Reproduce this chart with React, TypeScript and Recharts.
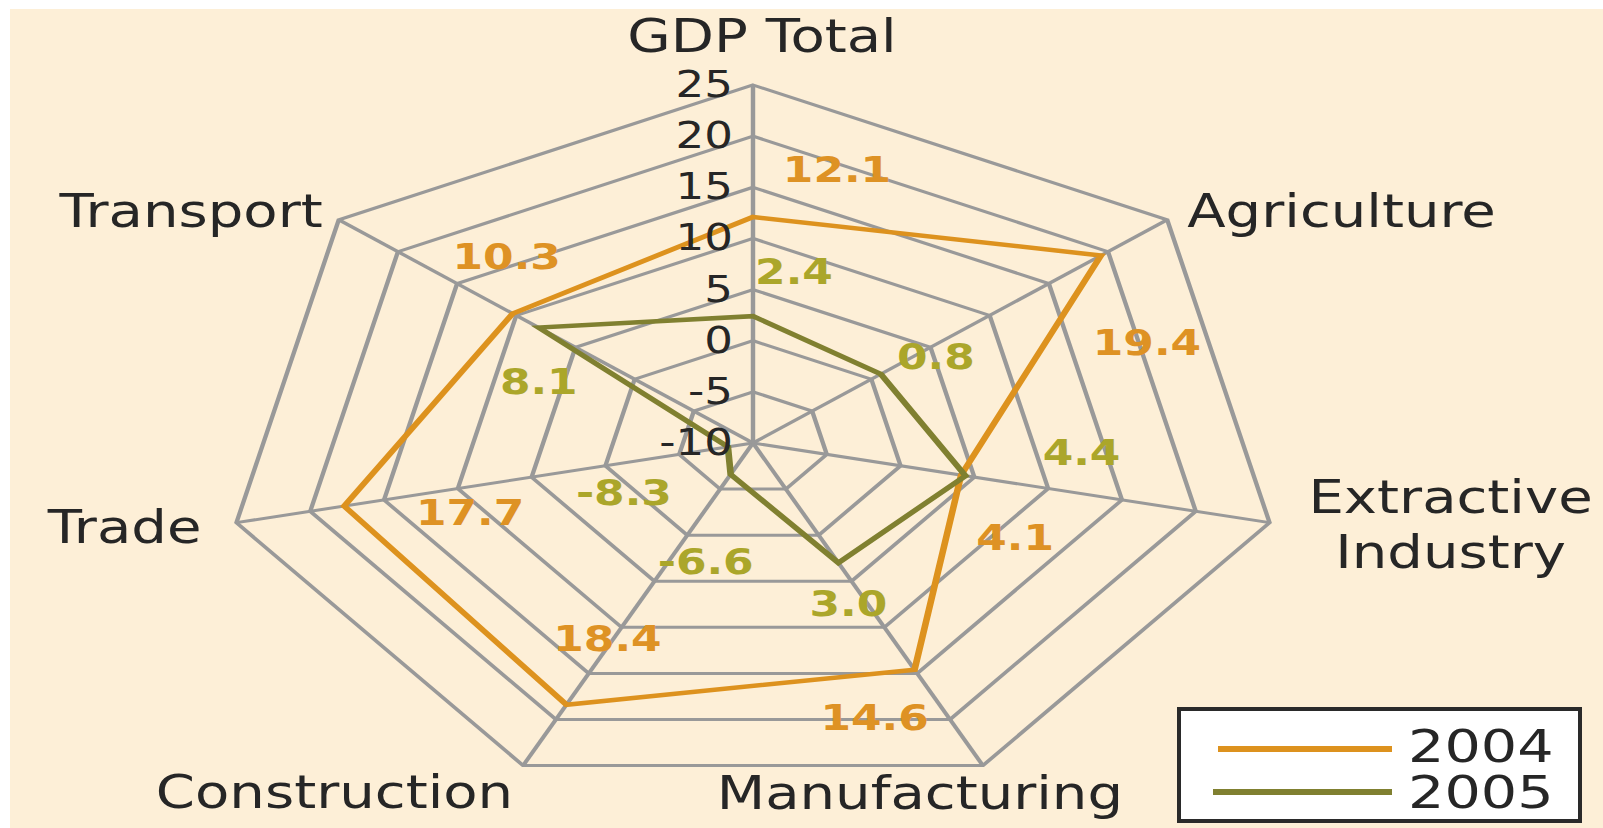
import React from "react";
import {
  RadarChart,
  Radar,
  PolarGrid,
  PolarAngleAxis,
  PolarRadiusAxis,
  LabelList,
} from "recharts";

const categories = [
  "GDP Total",
  "Agriculture",
  "Extractive Industry",
  "Manufacturing",
  "Construction",
  "Trade",
  "Transport",
];
const growth2004 = [12.1, 19.4, 4.1, 14.6, 18.4, 17.7, 10.3];
const growth2005 = [2.4, 0.8, 4.4, 3.0, -6.6, -8.3, 8.1];
const radiusTicks = [-10, -5, 0, 5, 10, 15, 20, 25];
const seriesNames = ["2004", "2005"];
const seriesColors = ["#DD921E", "#808030"];
const labelColors = ["#DE9224", "#ABA62A"];

const data = categories.map((name, i) => ({
  name,
  y2004: growth2004[i],
  y2005: growth2005[i],
}));

// the original plot is stretched sideways, the lettering much less so
const SX = 1.48;
const TXT = 1.22;
const FRAME_W = 1593;
const FRAME_H = 819;
const CHART_W = FRAME_W / SX;
const CX = 743 / SX;
const CY = 434;
const R = 358;
const FONT = "'DejaVu Sans', Verdana, sans-serif";

// where each category name sits, in screen px from its outer vertex
const axisLabelPos: Record<string, { anchor: string; dx: number; dy: number }> = {
  "GDP Total": { anchor: "middle", dx: 9, dy: -33 },
  Agriculture: { anchor: "start", dx: 20, dy: 7 },
  "Extractive Industry": { anchor: "middle", dx: 181, dy: -10 },
  Manufacturing: { anchor: "middle", dx: -63, dy: 43 },
  Construction: { anchor: "end", dx: -10, dy: 42 },
  Trade: { anchor: "end", dx: -35, dy: 20 },
  Transport: { anchor: "end", dx: -16, dy: 7 },
};

// value label offsets from the point (screen px)
const labelShift2004 = [
  [84, -48],
  [46, 86],
  [54, 62],
  [-40, 47],
  [41, -67],
  [126, 6],
  [-6, -58],
];
const labelShift2005 = [
  [41, -45],
  [55, -18],
  [116, -24],
  [10, 40],
  [-25, 87],
  [-104, 45],
  [0, 53],
];

function AngleTick(props: any) {
  const { x, y, payload } = props;
  const name = String(payload.value);
  const ddx = x - CX;
  const ddy = y - CY;
  const len = Math.hypot(ddx, ddy) || 1;
  const vx = CX + (ddx / len) * R;
  const vy = CY + (ddy / len) * R;
  const pos = axisLabelPos[name] || { anchor: "middle", dx: 0, dy: 0 };
  const lines = name === "Extractive Industry" ? ["Extractive", "Industry"] : [name];
  return (
    <g transform={`translate(${vx + pos.dx / SX} ${vy + pos.dy}) scale(${TXT / SX} 1)`}>
      <text textAnchor={pos.anchor as any} fontSize={46} fill="#262626" fontFamily={FONT}>
        {lines.map((l, i) => (
          <tspan key={i} x={0} dy={i === 0 ? 0 : 55}>
            {l}
          </tspan>
        ))}
      </text>
    </g>
  );
}

function RadiusTick(props: any) {
  const { x, y, payload } = props;
  return (
    <g transform={`translate(${x - 20 / SX} ${y + 12}) scale(${TXT / SX} 1)`}>
      <text textAnchor="end" fontSize={37} fill="#262626" fontFamily={FONT}>
        {payload.value}
      </text>
    </g>
  );
}

function makeLabel(shift: number[][], color: string) {
  return (p: any) => {
    const x = p.x ?? p.viewBox?.x;
    const y = p.y ?? p.viewBox?.y;
    const s = shift[p.index] || [0, 0];
    return (
      <g transform={`translate(${x + s[0] / SX} ${y + s[1] + 13}) scale(${TXT / SX} 1)`}>
        <text
          textAnchor="middle"
          fontSize={36}
          fontWeight="bold"
          fill={color}
          fontFamily={FONT}
        >
          {Number(p.value).toFixed(1)}
        </text>
      </g>
    );
  };
}

function LegendBox() {
  return (
    <svg
      width={405}
      height={116}
      style={{ position: "absolute", left: 1167, top: 698 }}
    >
      <rect x={2} y={2} width={401} height={112} fill="#fff" stroke="#2a2a2a" strokeWidth={4} />
      {seriesNames.map((n, i) => (
        <g key={n}>
          <line
            x1={i === 0 ? 41 : 36}
            x2={215}
            y1={42 + i * 43}
            y2={42 + i * 43}
            stroke={seriesColors[i]}
            strokeWidth={6}
          />
          <g transform={`translate(231 ${55 + i * 46}) scale(1.3 1)`}>
            <text fontSize={44} fill="#262626" fontFamily={FONT}>
              {n}
            </text>
          </g>
        </g>
      ))}
    </svg>
  );
}

export default function App() {
  return (
    <div
      style={{
        position: "absolute",
        left: 10,
        top: 9,
        width: FRAME_W,
        height: FRAME_H,
        background: "#FDEFD7",
        fontFamily: FONT,
      }}
    >
      <style>{".recharts-surface{overflow:visible}"}</style>
      <div
        style={{
          position: "absolute",
          left: 0,
          top: 0,
          transform: `scaleX(${SX})`,
          transformOrigin: "0 0",
        }}
      >
        <RadarChart
          width={CHART_W}
          height={FRAME_H}
          data={data}
          cx={CX}
          cy={CY}
          outerRadius={R}
          margin={{ top: 0, right: 0, bottom: 0, left: 0 }}
        >
          <PolarGrid gridType="polygon" stroke="#999999" strokeWidth={3} />
          <PolarAngleAxis
            dataKey="name"
            tick={AngleTick}
            axisLine={false}
            tickLine={false}
          />
          <PolarRadiusAxis
            angle={90}
            type="number"
            domain={[-10, 25]}
            ticks={radiusTicks}
            tick={RadiusTick}
            axisLine={false}
            tickLine={false}
          />
          <Radar
            name={seriesNames[0]}
            dataKey="y2004"
            stroke={seriesColors[0]}
            strokeWidth={4.5}
            fill="none"
            fillOpacity={0}
            dot={false}
            isAnimationActive={false}
          >
            <LabelList dataKey="y2004" content={makeLabel(labelShift2004, labelColors[0])} />
          </Radar>
          <Radar
            name={seriesNames[1]}
            dataKey="y2005"
            stroke={seriesColors[1]}
            strokeWidth={4.5}
            fill="none"
            fillOpacity={0}
            dot={false}
            isAnimationActive={false}
          >
            <LabelList dataKey="y2005" content={makeLabel(labelShift2005, labelColors[1])} />
          </Radar>
        </RadarChart>
      </div>
      <LegendBox />
    </div>
  );
}
